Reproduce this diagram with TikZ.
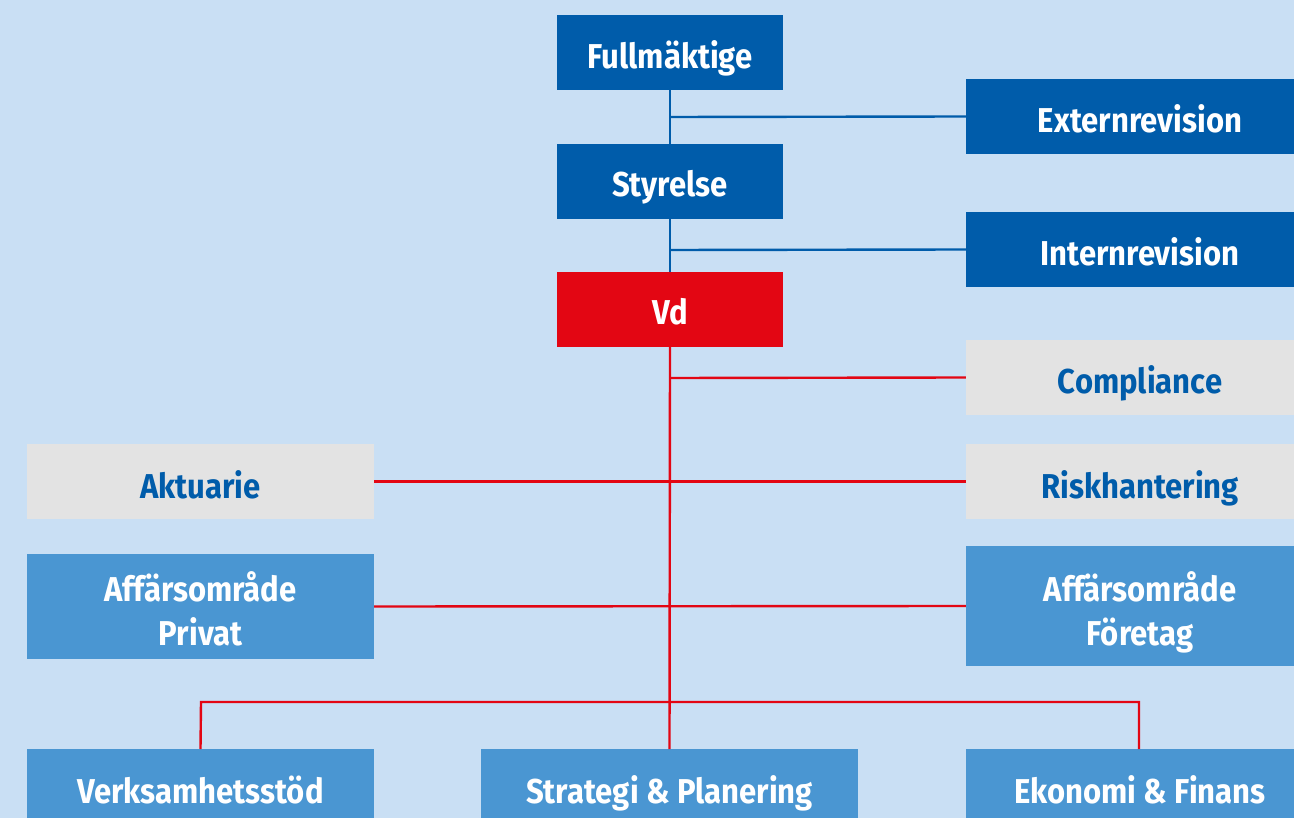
\documentclass[tikz,border=0pt]{standalone}
\usepackage{fontspec}
\setmainfont[FakeStretch=0.9]{Fira Sans}
\definecolor{bg}{HTML}{C9DFF4}
\definecolor{dblue}{HTML}{005CAA}
\definecolor{mblue}{HTML}{4A96D2}
\definecolor{vdred}{HTML}{E30613}
\definecolor{lgray}{HTML}{E3E3E3}
\begin{document}
\begin{tikzpicture}[x=1pt,y=-1pt,
  box/.style={minimum height=75pt, inner sep=0pt},
  darkbox/.style={box, fill=dblue},
  redbox/.style={box, fill=vdred},
  graybox/.style={box, fill=lgray},
  midbox/.style={box, fill=mblue},
  lbl/.style={anchor=base, inner sep=0pt, align=center,
    font=\fontsize{34.5}{44}\selectfont\bfseries, text=white},
  glbl/.style={lbl, text=dblue},
  bline/.style={draw=dblue, line width=2.4pt},
  rline/.style={draw=vdred, line width=2.4pt}]
\fill[bg] (0,0) rectangle (1294,818);
\useasboundingbox (0,0) rectangle (1294,818);
\coordinate (jA) at (670,117);
\coordinate (jB) at (670,250);
\coordinate (jC) at (670,378);
\coordinate (jL) at (201,702);
\coordinate (jR) at (1139,702);
% boxes
\node[darkbox, minimum width=226pt] (full) at (670,52.5) {};
\node[darkbox, minimum width=226pt] (styr) at (670,181.5) {};
\node[redbox, minimum width=226pt] (vd) at (670,309.5) {};
\node[darkbox, minimum width=328pt] (ext) at (1130,116.5) {};
\node[darkbox, minimum width=328pt] (int) at (1130,249.5) {};
\node[graybox, minimum width=328pt] (comp) at (1130,377.5) {};
\node[graybox, minimum width=328pt] (risk) at (1130,481.5) {};
\node[graybox, minimum width=347pt] (akt) at (200.5,481.5) {};
\node[midbox, minimum width=347pt, minimum height=105pt] (priv) at (200.5,606.5) {};
\node[midbox, minimum width=328pt, minimum height=120pt] (fore) at (1130,606) {};
\node[midbox, minimum width=347pt, minimum height=90pt, anchor=north] (verk) at (200.5,749) {};
\node[midbox, minimum width=377pt, minimum height=90pt, anchor=north] (strat) at (669.5,749) {};
\node[midbox, minimum width=328pt, minimum height=90pt, anchor=north] (eko) at (1130,749) {};
% labels
\node[lbl] (fullt) at (670,68.5) {Fullmäktige};
\node[lbl] (styrt) at (670,197) {Styrelse};
\node[lbl] (vdt) at (670,325) {Vd};
\node[lbl] (extt) at (1140,132.5) {Externrevision};
\node[lbl] (intt) at (1140,265.5) {Internrevision};
\node[glbl] (compt) at (1140,394) {Compliance};
\node[glbl] (riskt) at (1140,498) {Riskhantering};
\node[glbl] (aktt) at (200.5,498) {Aktuarie};
\node[lbl] (privt1) at (200.5,601) {Affärsområde};
\node[lbl] (privt2) at (200.5,645) {Privat};
\node[lbl] (foret1) at (1140,601) {Affärsområde};
\node[lbl] (foret2) at (1140,645) {Företag};
\node[lbl] (verkt) at (200.5,803) {Verksamhetsstöd};
\node[lbl] (stratt) at (669.5,803) {Strategi \& Planering};
\node[lbl] (ekot) at (1140,803) {Ekonomi \& Finans};
% connectors
\draw[bline] (full.south) -- (styr.north);
\draw[bline] (styr.south) -- (vd.north);
\draw[bline] (jA) -- (ext.west);
\draw[bline] (jB) -- (int.west);
\draw[rline] (vd.south) -- (strat.north);
\draw[rline] (jC) -- (comp.west);
\draw[rline] (akt.east) -- (risk.west);
\draw[rline] (priv.east) -- (fore.west);
\draw[rline] (verk.north) -- (jL) -- (jR) -- (eko.north -| jR);
\end{tikzpicture}
\end{document}
